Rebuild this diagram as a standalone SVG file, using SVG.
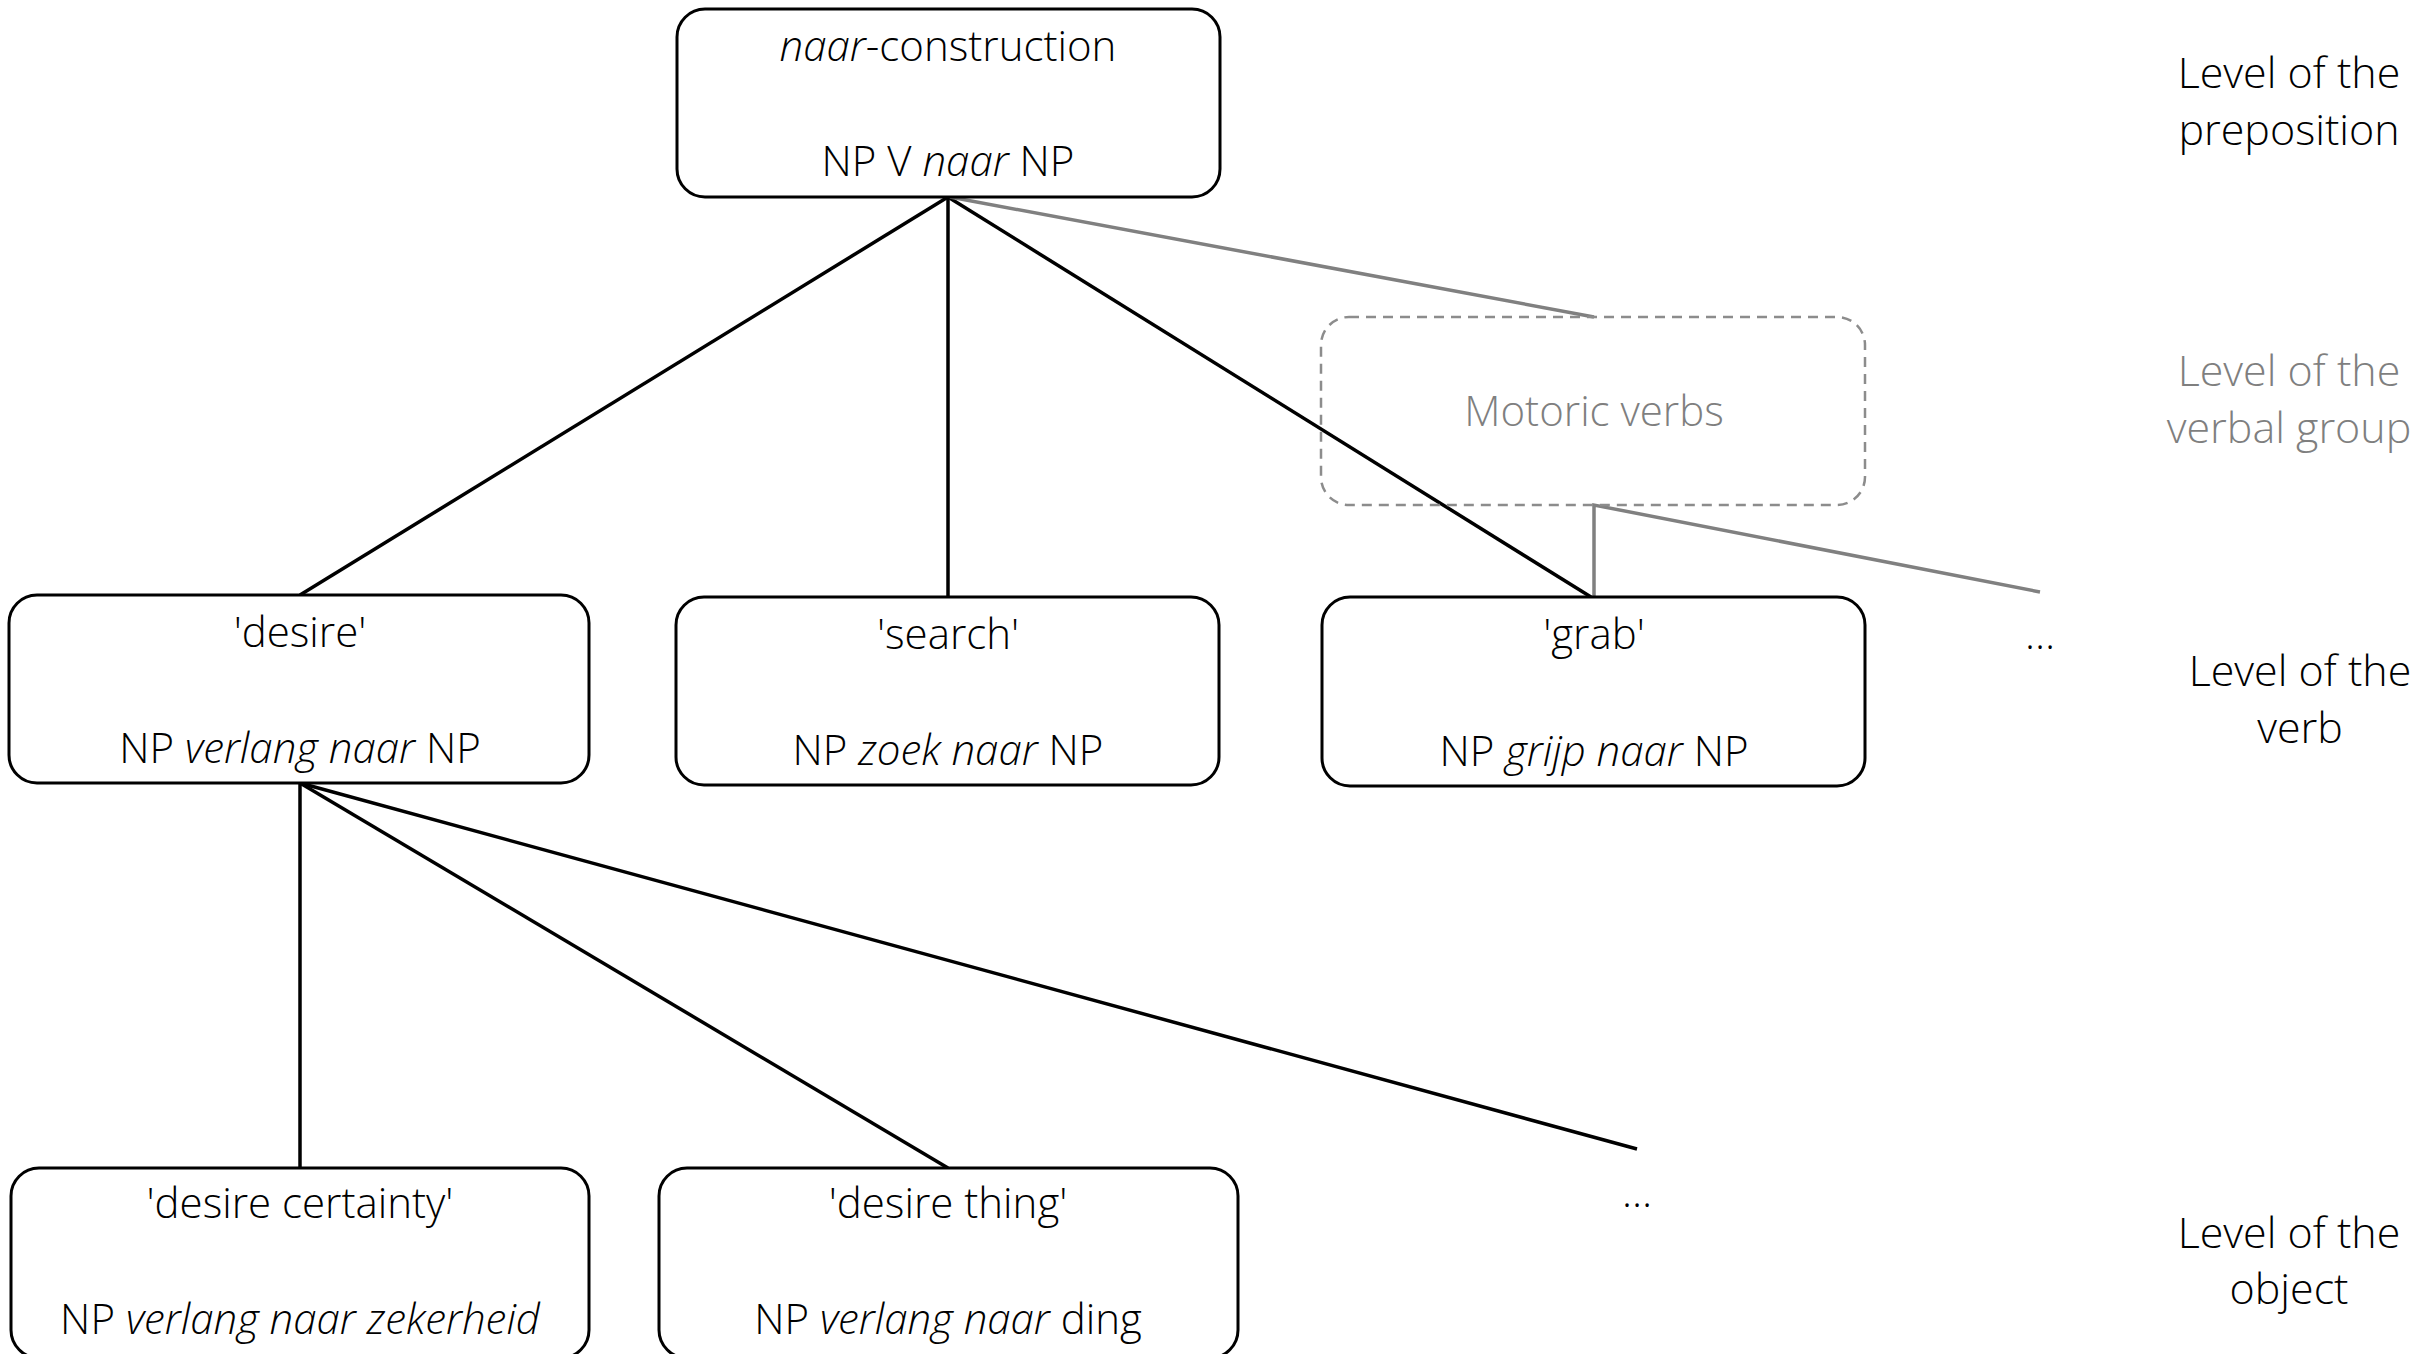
<svg xmlns="http://www.w3.org/2000/svg" width="2412" height="1354" viewBox="0 0 2412 1354">
<style>
text{font-family:"Open Sans","Liberation Sans",sans-serif;font-weight:300;font-size:42px;text-anchor:middle;fill:#000}
.lv{font-size:43px}
.g{fill:#7f7f7f}
.box{fill:#fff;stroke:#000;stroke-width:3}
.dbox{fill:none;stroke:#8c8c8c;stroke-width:2.5;stroke-dasharray:10 7}
.c{stroke:#000;stroke-width:3.5;fill:none}
.cg{stroke:#808080;stroke-width:3.5;fill:none}
.i{font-style:italic}
</style>
<rect width="2412" height="1354" fill="#fff"/>
<g id="connectors">
<line class="c" x1="948" y1="197" x2="300" y2="595"/>
<line class="c" x1="948" y1="197" x2="948" y2="597"/>
<line class="c" x1="948" y1="197" x2="1591" y2="597"/>
<line class="cg" x1="950" y1="197" x2="1594" y2="317"/>
<polyline class="cg" points="1594,597 1594,505 2040,592"/>
<line class="c" x1="300" y1="783" x2="300" y2="1168"/>
<line class="c" x1="300" y1="783" x2="948" y2="1168"/>
<line class="c" x1="300" y1="783" x2="1637" y2="1149"/>
</g>
<g id="n-root">
<rect class="box" x="677" y="9" width="543" height="188" rx="28"/>
<text x="948" y="61"><tspan class="i">naar</tspan>-construction</text>
<text x="948" y="176">NP V <tspan class="i">naar</tspan> NP</text>
</g>
<g id="n-motoric">
<rect class="dbox" x="1321" y="317" width="544" height="188" rx="28"/>
<text class="g" x="1594" y="426">Motoric verbs</text>
</g>
<g id="n-desire">
<rect class="box" x="9" y="595" width="580" height="188" rx="28"/>
<text x="300" y="647">'desire'</text>
<text x="300" y="763">NP <tspan class="i">verlang naar</tspan> NP</text>
</g>
<g id="n-search">
<rect class="box" x="676" y="597" width="543" height="188" rx="28"/>
<text x="948" y="649">'search'</text>
<text x="948" y="765">NP <tspan class="i">zoek naar</tspan> NP</text>
</g>
<g id="n-grab">
<rect class="box" x="1322" y="597" width="543" height="189" rx="28"/>
<text x="1594" y="649">'grab'</text>
<text x="1594" y="766">NP <tspan class="i">grijp naar</tspan> NP</text>
</g>
<g id="n-more-verbs">
<text x="2040" y="649">…</text>
</g>
<g id="n-certainty">
<rect class="box" x="11" y="1168" width="578" height="190" rx="28"/>
<text x="300" y="1218">'desire certainty'</text>
<text x="300" y="1334">NP <tspan class="i">verlang naar zekerheid</tspan></text>
</g>
<g id="n-thing">
<rect class="box" x="659" y="1168" width="579" height="190" rx="28"/>
<text x="948" y="1218">'desire thing'</text>
<text x="948" y="1334">NP <tspan class="i">verlang naar</tspan> ding</text>
</g>
<g id="n-more-objects">
<text x="1637" y="1207">…</text>
</g>
<g id="levels">
<text class="lv" x="2289" y="88">Level of the</text>
<text class="lv" x="2289" y="145">preposition</text>
<text class="lv g" x="2289" y="386">Level of the</text>
<text class="lv g" x="2289" y="443">verbal group</text>
<text class="lv" x="2300" y="686">Level of the</text>
<text class="lv" x="2300" y="743">verb</text>
<text class="lv" x="2289" y="1248">Level of the</text>
<text class="lv" x="2289" y="1304">object</text>
</g>
</svg>
